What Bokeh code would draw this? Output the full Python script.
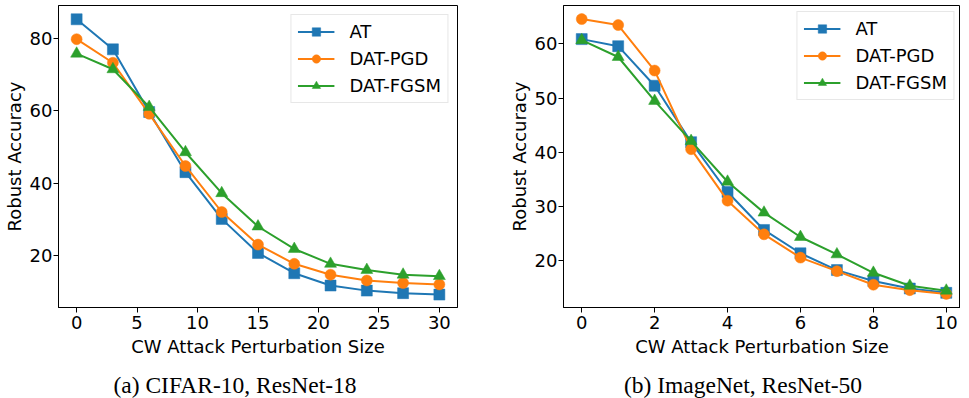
from bokeh.plotting import figure
from bokeh.models import Range1d, FixedTicker, Legend, LegendItem, Div
from bokeh.layouts import row, column
from bokeh.embed import file_html
from bokeh.resources import INLINE

# ---- data ----
series_names = ["AT", "DAT-PGD", "DAT-FGSM"]
series_colors = ["#1f77b4", "#ff7f0e", "#2ca02c"]
series_markers = ["square", "circle", "triangle"]

cifar_eps = [0, 3, 6, 9, 12, 15, 18, 21, 24, 27, 30]
cifar_at = [85.2, 76.9, 59.6, 43.0, 30.1, 20.7, 15.1, 11.7, 10.3, 9.6, 9.2]
cifar_pgd = [79.7, 73.2, 59.1, 44.7, 32.0, 23.0, 17.7, 14.7, 13.1, 12.4, 12.0]
cifar_fgsm = [75.7, 71.4, 61.0, 48.5, 37.2, 28.0, 21.8, 17.7, 16.0, 14.7, 14.3]
cifar_xticks = [0, 5, 10, 15, 20, 25, 30]
cifar_yticks = [20, 40, 60, 80]

imnet_eps = [0, 1, 2, 3, 4, 5, 6, 7, 8, 9, 10]
imnet_at = [60.9, 59.6, 52.3, 41.9, 32.7, 25.7, 21.4, 18.3, 16.3, 14.9, 14.1]
imnet_pgd = [64.6, 63.5, 55.1, 40.6, 31.1, 24.9, 20.6, 18.1, 15.6, 14.6, 13.9]
imnet_fgsm = [60.7, 57.6, 49.5, 42.1, 34.6, 28.9, 24.4, 21.2, 17.8, 15.4, 14.5]
imnet_xticks = [0, 2, 4, 6, 8, 10]
imnet_yticks = [20, 30, 40, 50, 60]

x_label = "CW Attack Perturbation Size"
y_label = "Robust Accuracy"
captions = ["(a) CIFAR-10, ResNet-18", "(b) ImageNet, ResNet-50"]

FONT = "DejaVu Sans"


def make_panel(xs, ys_list, xr, yr, xticks, yticks, width,
               border_left, border_right, leg_margin):
    p = figure(width=width, height=373, output_backend="svg",
               toolbar_location=None,
               x_range=Range1d(*xr), y_range=Range1d(*yr),
               min_border_left=border_left, min_border_right=border_right,
               min_border_top=5, min_border_bottom=66)
    p.grid.visible = False
    p.outline_line_color = "black"
    p.outline_line_width = 1
    p.outline_line_alpha = 1
    p.background_fill_color = "white"
    p.border_fill_color = "white"

    p.xaxis.ticker = FixedTicker(ticks=xticks)
    p.yaxis.ticker = FixedTicker(ticks=yticks)
    p.xaxis.axis_label = x_label
    p.yaxis.axis_label = y_label
    for ax in p.axis:
        ax.major_tick_out = 5
        ax.major_tick_in = 0
        ax.minor_tick_line_color = None
        ax.axis_line_color = "black"
        ax.major_tick_line_color = "black"
        ax.major_label_text_font = FONT
        ax.major_label_text_font_size = "18px"
        ax.major_label_text_color = "black"
        ax.axis_label_text_font = FONT
        ax.axis_label_text_font_size = "18px"
        ax.axis_label_text_font_style = "normal"
        ax.axis_label_text_color = "black"
    p.xaxis.major_label_standoff = 3
    p.xaxis.axis_label_standoff = 4
    p.yaxis.major_label_standoff = 1
    p.yaxis.axis_label_standoff = 2

    items = []
    for name, color, marker, ys in zip(series_names, series_colors,
                                       series_markers, ys_list):
        l = p.line(xs, ys, line_color=color, line_width=2)
        size = 12 if marker == "triangle" else 11
        s = p.scatter(xs, ys, marker=marker, size=size, fill_color=color,
                      line_color=color, line_width=0.5)
        items.append(LegendItem(label=name, renderers=[l, s]))

    leg = Legend(items=items, location="top_right")
    leg.label_text_font = FONT
    leg.label_text_font_size = "18px"
    leg.label_text_color = "black"
    leg.glyph_width = 37
    leg.glyph_height = 21
    leg.label_height = 21
    leg.label_standoff = 15
    leg.spacing = 6
    leg.padding = 6
    leg.margin = leg_margin
    leg.border_line_color = "#d0d0d0"
    leg.border_line_width = 1
    leg.background_fill_color = "white"
    leg.background_fill_alpha = 0.8
    p.add_layout(leg)
    return p


def caption_div(text, width, pad_left, pad_right):
    html = ('<div style="box-sizing:border-box; width:%dpx; '
            'padding-left:%dpx; padding-right:%dpx; text-align:center; '
            'font-family:\'Liberation Serif\'; font-size:23.5px; '
            'line-height:25px; color:black; white-space:nowrap;">%s</div>'
            % (width, pad_left, pad_right, text))
    return Div(text=html, width=width, height=25, margin=0)


p1 = make_panel(cifar_eps, [cifar_at, cifar_pgd, cifar_fgsm],
                (-1.5, 31.5), (5.64, 89.0), cifar_xticks, cifar_yticks,
                505, 51, 48, 9)
p2 = make_panel(imnet_eps, [imnet_at, imnet_pgd, imnet_fgsm],
                (-0.5, 10.39), (11.4, 67.1), imnet_xticks, imnet_yticks,
                455, 54, 0, 6)

d1 = caption_div(captions[0], 505, 0, 35)
d2 = caption_div(captions[1], 455, 21, 0)

layout = row(column(p1, d1, spacing=0), column(p2, d2, spacing=0), spacing=0)
open("out.html", "w").write(file_html(layout, INLINE))
